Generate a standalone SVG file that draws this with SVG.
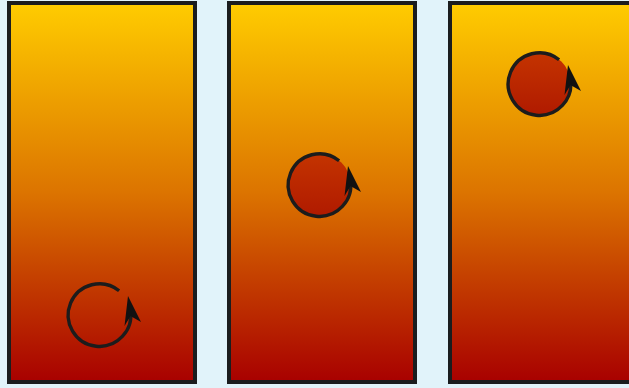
<svg xmlns="http://www.w3.org/2000/svg" xmlns:xlink="http://www.w3.org/1999/xlink" width="629" height="388" viewBox="0 0 629 388">
<defs>
<linearGradient id="heat" x1="0" y1="0" x2="0" y2="1">
<stop offset="0" stop-color="#ffcc00"/>
<stop offset="0.5" stop-color="#dc7400"/>
<stop offset="1" stop-color="#a80000"/>
</linearGradient>
<linearGradient id="blob" x1="0" y1="0" x2="0" y2="1">
<stop offset="0" stop-color="#c43400"/>
<stop offset="1" stop-color="#b01a00"/>
</linearGradient>
<polygon id="head" points="28.5,-19 41.5,7 31,1 25,11"/>
</defs>
<style>
.panel{fill:url(#heat);stroke:#1a1c1e;stroke-width:4}
.loop{fill:none;stroke:#1c1c1c;stroke-width:3.4}
.fill{fill:url(#blob);stroke:none}
.head{fill:#111}
</style>
<rect width="629" height="388" fill="#e1f3fa"/>
<g id="panel1"><rect class="panel" x="9" y="3" width="186" height="379"/></g>
<g id="panel2"><rect class="panel" x="229" y="3" width="186" height="379"/></g>
<g id="panel3"><rect class="panel" x="450" y="3" width="186" height="379"/></g>
<g id="rot1" transform="translate(99.5,315)">
<path class="loop" d="M19.6,-24.3 A31.3,31.3 0 1 0 30.8,-5.4"/>
<use href="#head" class="head"/>
</g>
<g id="rot2" transform="translate(319.5,185)">
<circle class="fill" r="31.3"/>
<path class="loop" d="M19.6,-24.3 A31.3,31.3 0 1 0 30.8,-5.4"/>
<use href="#head" class="head"/>
</g>
<g id="rot3" transform="translate(539.5,84)">
<circle class="fill" r="31.3"/>
<path class="loop" d="M19.6,-24.3 A31.3,31.3 0 1 0 30.8,-5.4"/>
<use href="#head" class="head"/>
</g>
</svg>
